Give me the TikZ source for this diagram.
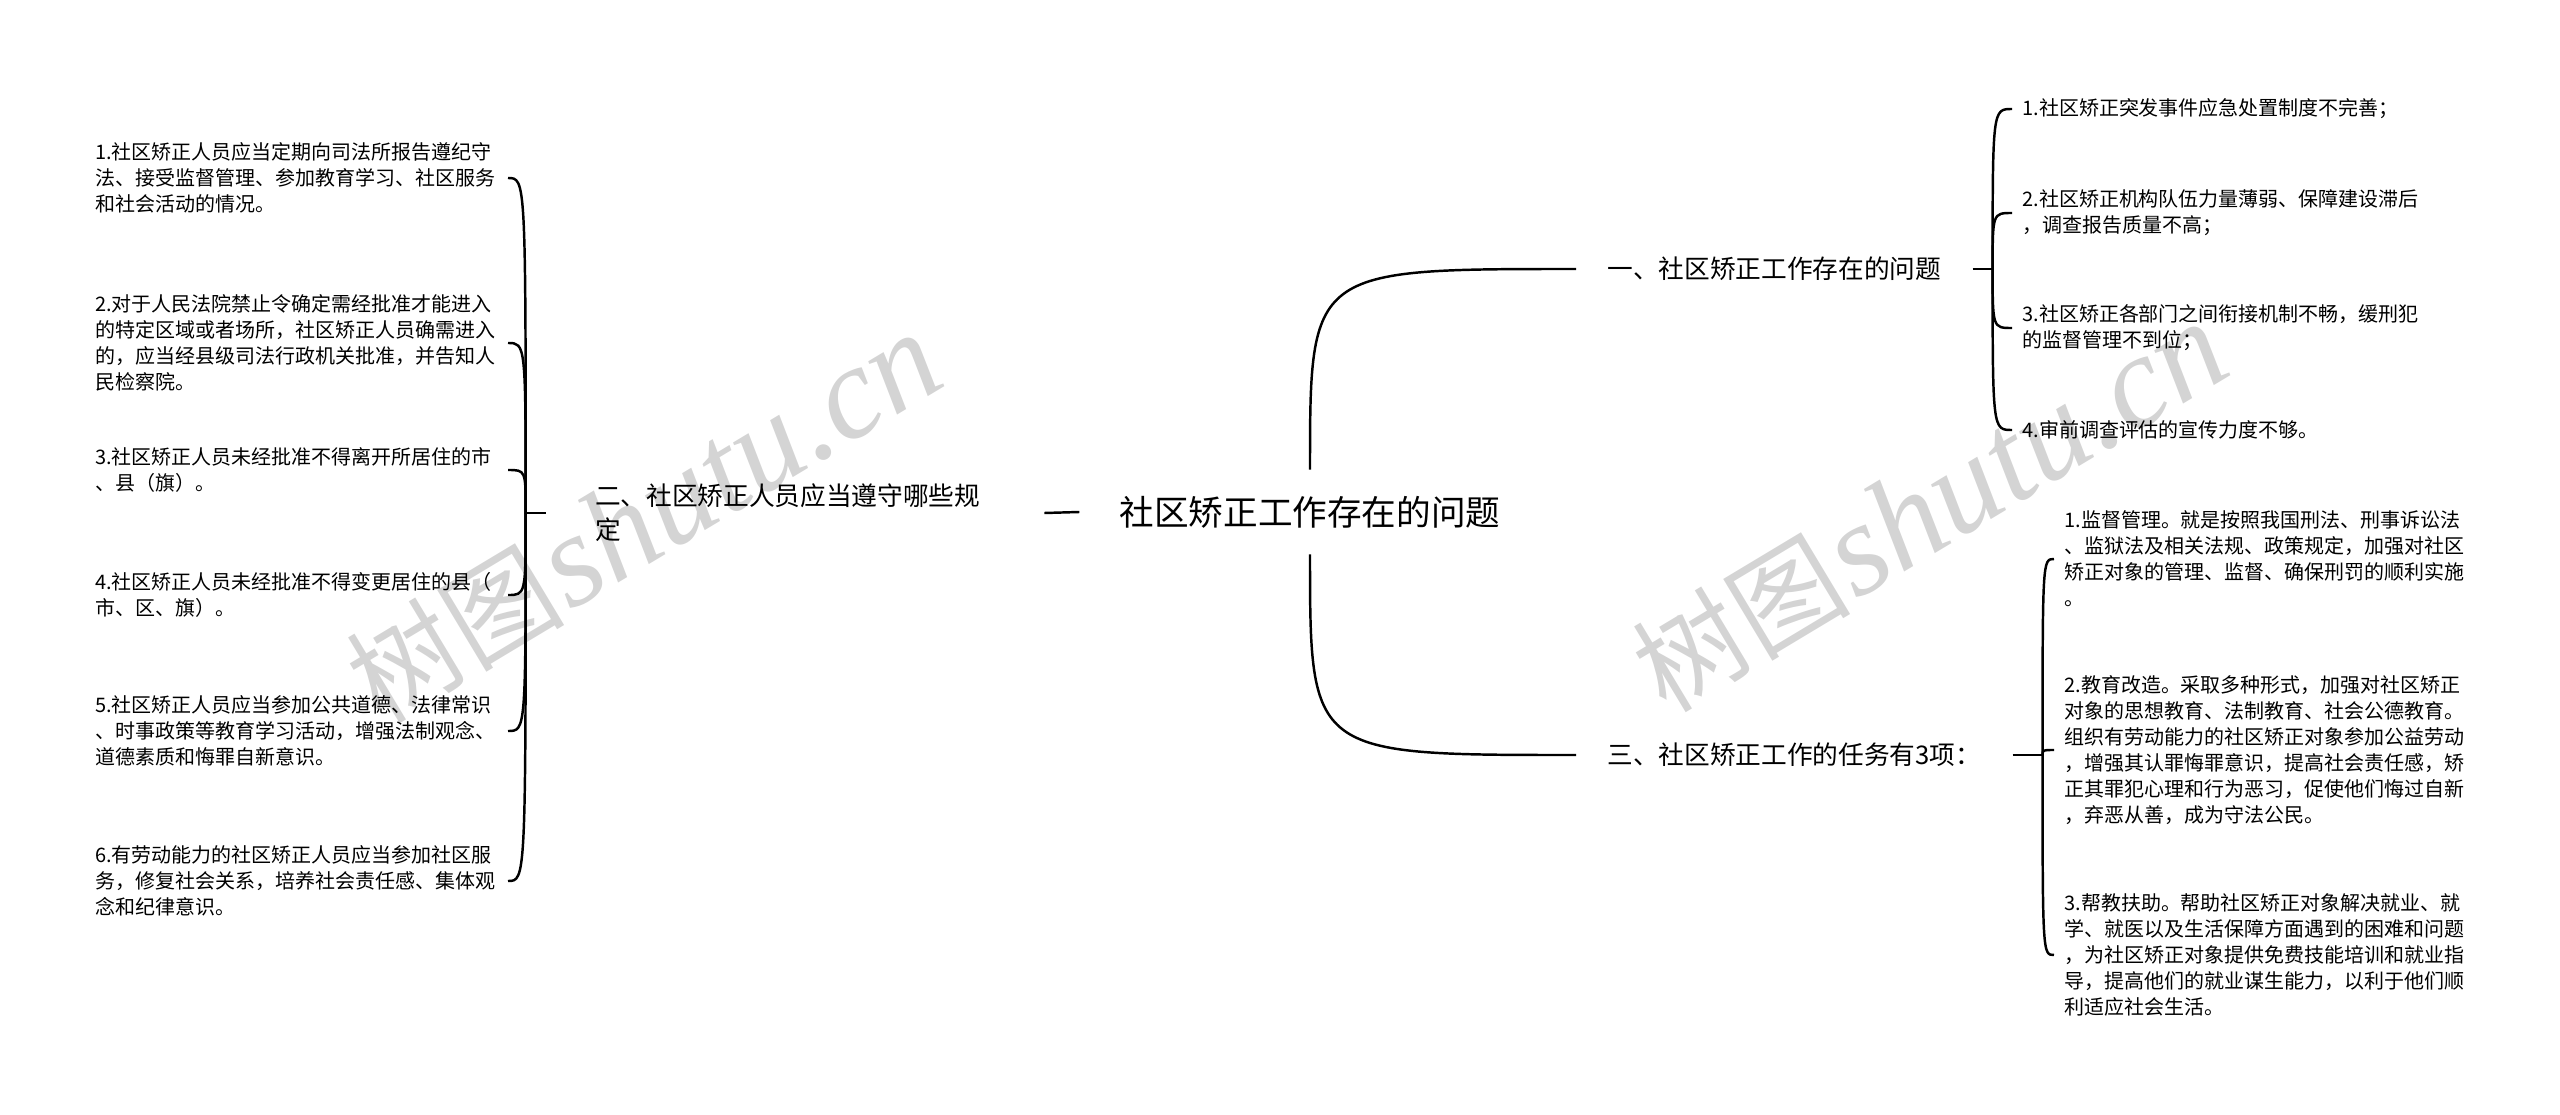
\documentclass[tikz,border=0pt]{standalone}
\usepackage{fontspec}
\setmainfont{Noto Sans CJK SC}
\newfontfamily\wmfont{Liberation Serif}
\usetikzlibrary{calc}
\colorlet{LinkColor}{black}
\colorlet{WatermarkGray}{black!17}
\tikzset{
    leaf text/.style={align=left, text width=8.05cm, inner xsep=0.2cm, inner ysep=0.1cm,
        font=\fontsize{11.38pt}{14.8pt}\selectfont},
    topic text/.style={inner xsep=0.62cm, inner ysep=0.2cm,
        font=\fontsize{14.62pt}{19.35pt}\selectfont},
    center text/.style={inner xsep=0.8cm, minimum height=1.68cm,
        font=\fontsize{19.7pt}{24pt}\selectfont},
    link/.style={draw=LinkColor, line width=1.4pt},
    watermark/.style={text=WatermarkGray, rotate=31, inner sep=0pt}
}

\begin{document}
\begin{tikzpicture}[x=0.02cm, y=-0.02cm]

    \useasboundingbox (0,0) rectangle (2560,1115);

    % Marcas de agua
    \node[watermark] (wmleft) at (644,519) {{\fontsize{62pt}{64pt}\selectfont 树图}\hspace{0.2em}{\wmfont\itshape\fontsize{75pt}{77pt}\selectfont shutu.cn}};
    \node[watermark] (wmright) at (1930,508) {{\fontsize{62pt}{64pt}\selectfont 树图}\hspace{0.2em}{\wmfont\itshape\fontsize{75pt}{77pt}\selectfont shutu.cn}};

    % Tema central y ramas
    \node[center text] (root) at (1310,512) {社区矫正工作存在的问题};
    \node[topic text, align=left, text width=8cm, inner xsep=0.98cm] (rules) at (795,513) {二、社区矫正人员应当遵守哪些规\\定};
    \node[topic text, anchor=west] (problems) at (1576,269) {一、社区矫正工作存在的问题};
    \node[topic text, anchor=west] (tasks) at (1576,755) {三、社区矫正工作的任务有3项：};

    \coordinate (rulesj) at ($(rules.west)+(-20,0)$);
    \coordinate (problemsj) at ($(problems.east)+(20,0)$);
    \coordinate (tasksj) at ($(tasks.east)+(30,0)$);

    % Hojas de la izquierda
    \node[leaf text, anchor=east] (rule1) at (508,178) {1.社区矫正人员应当定期向司法所报告遵纪守\\法、接受监督管理、参加教育学习、社区服务\\和社会活动的情况。};
    \node[leaf text, anchor=east] (rule2) at (508,343) {2.对于人民法院禁止令确定需经批准才能进入\\的特定区域或者场所，社区矫正人员确需进入\\的，应当经县级司法行政机关批准，并告知人\\民检察院。};
    \node[leaf text, anchor=east] (rule3) at (508,470) {3.社区矫正人员未经批准不得离开所居住的市\\、县（旗）。};
    \node[leaf text, anchor=east] (rule4) at (508,595) {4.社区矫正人员未经批准不得变更居住的县（\\市、区、旗）。};
    \node[leaf text, anchor=east] (rule5) at (508,731) {5.社区矫正人员应当参加公共道德、法律常识\\、时事政策等教育学习活动，增强法制观念、\\道德素质和悔罪自新意识。};
    \node[leaf text, anchor=east] (rule6) at (508,881) {6.有劳动能力的社区矫正人员应当参加社区服\\务，修复社会关系，培养社会责任感、集体观\\念和纪律意识。};

    % Hojas de la derecha
    \node[leaf text, anchor=west] (problem1) at (2012,109) {1.社区矫正突发事件应急处置制度不完善；};
    \node[leaf text, anchor=west] (problem2) at (2012,213) {2.社区矫正机构队伍力量薄弱、保障建设滞后\\，调查报告质量不高；};
    \node[leaf text, anchor=west] (problem3) at (2012,328) {3.社区矫正各部门之间衔接机制不畅，缓刑犯\\的监督管理不到位；};
    \node[leaf text, anchor=west] (problem4) at (2012,430) {4.审前调查评估的宣传力度不够。};

    \node[leaf text, anchor=west] (task1) at (2054,559) {1.监督管理。就是按照我国刑法、刑事诉讼法\\、监狱法及相关法规、政策规定，加强对社区\\矫正对象的管理、监督、确保刑罚的顺利实施\\。};
    \node[leaf text, anchor=west] (task2) at (2054,750) {2.教育改造。采取多种形式，加强对社区矫正\\对象的思想教育、法制教育、社会公德教育。\\组织有劳动能力的社区矫正对象参加公益劳动\\，增强其认罪悔罪意识，提高社会责任感，矫\\正其罪犯心理和行为恶习，促使他们悔过自新\\，弃恶从善，成为守法公民。};
    \node[leaf text, anchor=west] (task3) at (2054,955) {3.帮教扶助。帮助社区矫正对象解决就业、就\\学、就医以及生活保障方面遇到的困难和问题\\，为社区矫正对象提供免费技能培训和就业指\\导，提高他们的就业谋生能力，以利于他们顺\\利适应社会生活。};

    % Conectores del tema central
    \draw[link] (rules.east) -- (root.west);
    \draw[link] (root.north) .. controls (root.north |- problems.west) .. (problems.west);
    \draw[link] (root.south) .. controls (root.south |- tasks.west) .. (tasks.west);

    % Llaves
    \draw[link] (rules.west) -- (rulesj);
    \draw[link] (rulesj) .. controls (rulesj |- rule1.east) .. (rule1.east);
    \draw[link] (rulesj) .. controls (rulesj |- rule2.east) .. (rule2.east);
    \draw[link] (rulesj) .. controls (rulesj |- rule3.east) .. (rule3.east);
    \draw[link] (rulesj) .. controls (rulesj |- rule4.east) .. (rule4.east);
    \draw[link] (rulesj) .. controls (rulesj |- rule5.east) .. (rule5.east);
    \draw[link] (rulesj) .. controls (rulesj |- rule6.east) .. (rule6.east);

    \draw[link] (problems.east) -- (problemsj);
    \draw[link] (problemsj) .. controls (problemsj |- problem1.west) .. (problem1.west);
    \draw[link] (problemsj) .. controls (problemsj |- problem2.west) .. (problem2.west);
    \draw[link] (problemsj) .. controls (problemsj |- problem3.west) .. (problem3.west);
    \draw[link] (problemsj) .. controls (problemsj |- problem4.west) .. (problem4.west);

    \draw[link] (tasks.east) -- (tasksj);
    \draw[link] (tasksj) .. controls (tasksj |- task1.west) .. (task1.west);
    \draw[link] (tasksj) .. controls (tasksj |- task2.west) .. (task2.west);
    \draw[link] (tasksj) .. controls (tasksj |- task3.west) .. (task3.west);

\end{tikzpicture}
\end{document}
